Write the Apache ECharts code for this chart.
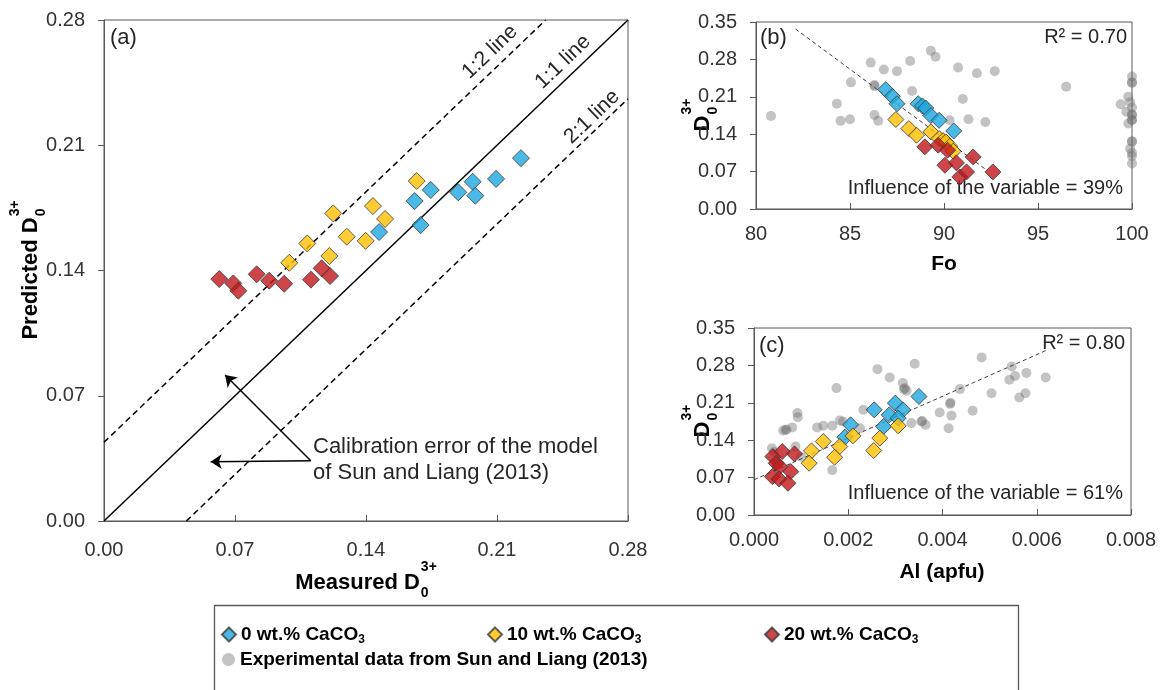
<!DOCTYPE html>
<html>
<head>
<meta charset="utf-8">
<script src="https://cdn.jsdelivr.net/npm/echarts@6/dist/echarts.min.js"></script>
<style>
  html, body { margin: 0; padding: 0; background: #fff; }
  #chart { width: 1163px; height: 690px; }
</style>
</head>
<body>
<div id="chart"></div>
<script>
// ---- Series names ----
const S0 = '0 wt.% CaCO3';
const S10 = '10 wt.% CaCO3';
const S20 = '20 wt.% CaCO3';
const SEXP = 'Experimental data from Sun and Liang (2013)';

// ---- Panel (a): measured vs predicted D0(3+) ----
const aBlue = [[0.147,0.1615],[0.166,0.1788],[0.1746,0.185],[0.1692,0.1654],[0.1893,0.1837],[0.197,0.1896],[0.1984,0.1818],[0.2095,0.1912],[0.2228,0.2028]];
const aYellow = [[0.099,0.1443],[0.1086,0.1551],[0.1225,0.1719],[0.1204,0.1481],[0.1297,0.1589],[0.1398,0.1566],[0.1437,0.176],[0.1502,0.1688],[0.1671,0.19]];
const aRed = [[0.0616,0.1352],[0.0691,0.1328],[0.0718,0.1287],[0.0816,0.1379],[0.0883,0.1343],[0.0963,0.1326],[0.1106,0.1349],[0.1163,0.1412],[0.1208,0.1369]];
// 1:1 line and the calibration-error envelope (offset in D units)
const oneToOne = [[0, 0], [0.28, 0.28]];
const calibrationError = 0.044;
// arrows pointing at the envelope lines
const arrowTail = [0.1105, 0.0337];
const arrowHeads = [[0.0647, 0.0816], [0.057, 0.0331]];

// ---- Panel (b): D0(3+) vs Fo ----
const bBlue = [[86.9,0.2235],[87.25,0.211],[87.5,0.197],[88.63,0.197],[88.85,0.193],[89.03,0.189],[89.3,0.175],[89.74,0.166],[90.52,0.146]];
const bYellow = [[87.44,0.1675],[88.13,0.1506],[88.54,0.1381],[89.3,0.1444],[89.74,0.1319],[89.95,0.128],[90.1,0.1256],[90.31,0.1175],[90.49,0.1081]];
const bRed = [[88.98,0.1163],[89.69,0.1194],[90.19,0.11],[90.05,0.0819],[90.66,0.0863],[90.84,0.06],[91.2,0.0694],[91.55,0.0975],[92.6,0.0694]];
const bGray = [[80.8,0.174],[84.3,0.197],[84.5,0.165],[85.0,0.168],[85.05,0.237],[86.1,0.274],[86.3,0.230],[86.3,0.232],[86.3,0.176],[86.5,0.165],[86.8,0.261],[87.5,0.258],[88.2,0.277],[88.3,0.221],[89.3,0.296],[89.55,0.285],[90.3,0.166],[90.75,0.265],[91.0,0.206],[91.3,0.168],[91.75,0.254],[92.2,0.163],[92.7,0.258],[96.5,0.229],
  [99.4,0.196],[99.8,0.210],[100,0.248],[100,0.236],[100,0.237],[99.9,0.200],[100,0.190],[99.7,0.182],[100,0.176],[100,0.177],[100,0.166],[100,0.167],[99.8,0.160],[100,0.126],[100,0.127],[99.9,0.113],[100,0.105],[100,0.099],[100,0.085]];
const bTrend = [[82.1, 0.337], [92.3, 0.072]];

// ---- Panel (c): D0(3+) vs Al (apfu) ----
const cBlue = [[0.00255,0.1969],[0.0030,0.2094],[0.00316,0.1969],[0.00287,0.1875],[0.00306,0.1813],[0.00275,0.1656],[0.0035,0.2219],[0.00205,0.1688],[0.00193,0.1456]];
const cYellow = [[0.00306,0.1669],[0.00267,0.1438],[0.00254,0.1206],[0.0021,0.1481],[0.00182,0.1281],[0.00171,0.1081],[0.00147,0.1375],[0.00122,0.12],[0.00117,0.0969]];
const cRed = [[0.0004,0.1094],[0.0006,0.1188],[0.00086,0.1144],[0.00047,0.0969],[0.00055,0.0906],[0.00078,0.0813],[0.00039,0.0719],[0.00053,0.0675],[0.00072,0.0594]];
const cGray = [[0.00038,0.125],[0.00042,0.118],[0.00062,0.158],[0.00067,0.159],[0.00069,0.160],[0.00081,0.164],[0.00092,0.191],[0.00093,0.183],[0.00088,0.128],[0.0010,0.109],[0.00134,0.164],[0.00147,0.167],[0.00166,0.167],[0.00166,0.084],[0.00175,0.2375],[0.00182,0.177],[0.00189,0.175],[0.00225,0.1625],[0.00232,0.197],[0.00262,0.273],[0.00288,0.2575],[0.00316,0.247],[0.00318,0.2356],[0.00320,0.237],[0.00324,0.2325],[0.00341,0.283],[0.00334,0.172],[0.00355,0.175],[0.00357,0.176],[0.00364,0.169],[0.00394,0.192],[0.00416,0.208],[0.00417,0.210],[0.00419,0.186],[0.00413,0.1625],[0.00437,0.2356],[0.00464,0.195],[0.00483,0.295],[0.00504,0.228],[0.00547,0.278],[0.00542,0.253],[0.00554,0.26],[0.00578,0.266],[0.00563,0.22],[0.00576,0.228],[0.00619,0.2575]];
const cTrend = [[0, 0.066], [0.0062, 0.308]];

// ---- Styling ----
const FONT = '"Liberation Sans", Arial, sans-serif';
const COLORS = { blue: '#1EA8E0', yellow: '#FFC000', red: '#C0161B', gray: '#707070' };
const AXIS_COLOR = '#595959';
const TEXT_COLOR = '#262626';

const measureCtx = document.createElement('canvas').getContext('2d');
function textWidth(text, font) { measureCtx.font = font; return measureCtx.measureText(text).width; }

function valueAxis(gridIndex, min, max, interval, digits, isX, margin) {
  return {
    type: 'value', gridIndex, min, max, interval,
    axisLine: { show: true, onZero: false, lineStyle: { color: AXIS_COLOR, width: 1 } },
    axisTick: { show: true, inside: isX, length: 6, lineStyle: { color: AXIS_COLOR, width: 1 } },
    axisLabel: { margin, color: '#333', fontSize: 20, fontFamily: FONT, formatter: v => v.toFixed(digits) },
    splitLine: { show: false }
  };
}

function scatter(name, data, axisIndex, color, size, symbol) {
  const isGray = symbol === 'circle';
  return {
    type: 'scatter', name, data, xAxisIndex: axisIndex, yAxisIndex: axisIndex,
    symbol, symbolSize: size, z: isGray ? 2 : 4,
    itemStyle: isGray ? { color, opacity: 0.42 } : { color, borderColor: '#3a3a3a', borderWidth: 1 },
    emphasis: { disabled: true }
  };
}

function refLine(data, axisIndex, dashed, width, color, extra) {
  return Object.assign({
    type: 'line', data, xAxisIndex: axisIndex, yAxisIndex: axisIndex,
    showSymbol: false, symbol: 'none', silent: true, z: 3,
    lineStyle: { color, width, type: dashed ? dashed : 'solid' }
  }, extra || {});
}

// Axis title with a stacked subscript "0" and superscript "3+"
function dTitle(main, cx, cy, rotation) {
  const fMain = 'bold 22px ' + FONT;
  const fSmall = 'bold 14px ' + FONT;
  const w1 = textWidth(main, fMain);
  const w2 = textWidth('3+', fSmall);
  const x0 = -(w1 + 1 + w2) / 2;
  const base = { fill: '#000', textVerticalAlign: 'middle', textAlign: 'left' };
  return {
    type: 'group', x: cx, y: cy, rotation, silent: true,
    children: [
      { type: 'text', x: x0, y: 0, style: Object.assign({ text: main, font: fMain }, base) },
      { type: 'text', x: x0 + w1 + 1, y: 10, style: Object.assign({ text: '0', font: fSmall }, base) },
      { type: 'text', x: x0 + w1 + 1, y: -16, style: Object.assign({ text: '3+', font: fSmall }, base) }
    ]
  };
}

function label(text, x, y, opts) {
  return {
    type: 'text', x, y, silent: true, rotation: (opts && opts.rotation) || 0,
    style: {
      text, fill: TEXT_COLOR,
      font: ((opts && opts.font) || '20px') + ' ' + FONT,
      textAlign: (opts && opts.align) || 'left',
      textVerticalAlign: (opts && opts.vAlign) || 'middle',
      lineHeight: (opts && opts.lineHeight) || undefined
    }
  };
}

const legendText = {
  fontFamily: FONT, fontWeight: 'bold', fontSize: 19, color: '#000',
  rich: {
    t: { fontFamily: FONT, fontWeight: 'bold', fontSize: 19, color: '#000' },
    s: { fontFamily: FONT, fontWeight: 'bold', fontSize: 12, color: '#000', padding: [10, 0, 0, 0] }
  }
};
function legendItem(name, left, top, icon) {
  return {
    data: [name], left, top, icon, padding: 0,
    itemWidth: icon === 'circle' ? 13 : 14, itemHeight: icon === 'circle' ? 13 : 14,
    selectedMode: false, textStyle: legendText,
    formatter: n => /3$/.test(n) ? '{t|' + n.slice(0, -1) + '}{s|3}' : '{t|' + n + '}'
  };
}

const lineAngle = Math.atan2(501 / 0.28, 524 / 0.28);

const option = {
  animation: false,
  backgroundColor: '#fff',
  textStyle: { fontFamily: FONT },
  grid: [
    { left: 104, top: 20, width: 524, height: 501, show: true, borderColor: AXIS_COLOR, borderWidth: 1 },
    { left: 756, top: 22, width: 376, height: 187, show: true, borderColor: AXIS_COLOR, borderWidth: 1 },
    { left: 754, top: 328, width: 377, height: 187, show: true, borderColor: AXIS_COLOR, borderWidth: 1 }
  ],
  xAxis: [
    valueAxis(0, 0, 0.28, 0.07, 2, true, 19),
    valueAxis(1, 80, 100, 5, 0, true, 15),
    valueAxis(2, 0, 0.008, 0.002, 3, true, 15)
  ],
  yAxis: [
    valueAxis(0, 0, 0.28, 0.07, 2, false, 19),
    valueAxis(1, 0, 0.35, 0.07, 2, false, 19),
    valueAxis(2, 0, 0.35, 0.07, 2, false, 19)
  ],
  legend: [
    legendItem(S0, 221, 625, 'diamond'),
    legendItem(S10, 487, 625, 'diamond'),
    legendItem(S20, 764, 625, 'diamond'),
    legendItem(SEXP, 222, 650, 'circle')
  ],
  series: [
    // panel (a) reference lines
    refLine(oneToOne, 0, null, 1.5, '#000', {
      markLine: {
        silent: true, symbol: ['none', 'arrow'], symbolSize: 11,
        lineStyle: { color: '#000', width: 1.5, type: 'solid' },
        label: { show: false },
        data: arrowHeads.map(h => [{ coord: arrowTail }, { coord: h }])
      }
    }),
    refLine([[0, calibrationError], [0.28 - calibrationError, 0.28]], 0, [6, 4], 1.5, '#000'),
    refLine([[calibrationError, 0], [0.28, 0.28 - calibrationError]], 0, [6, 4], 1.5, '#000'),
    scatter(S0, aBlue, 0, COLORS.blue, 17, 'diamond'),
    scatter(S10, aYellow, 0, COLORS.yellow, 17, 'diamond'),
    scatter(S20, aRed, 0, COLORS.red, 17, 'diamond'),
    // panel (b)
    scatter(SEXP, bGray, 1, COLORS.gray, 10, 'circle'),
    refLine(bTrend, 1, [4, 3], 1, '#404040'),
    scatter(S0, bBlue, 1, COLORS.blue, 16, 'diamond'),
    scatter(S10, bYellow, 1, COLORS.yellow, 16, 'diamond'),
    scatter(S20, bRed, 1, COLORS.red, 16, 'diamond'),
    // panel (c)
    scatter(SEXP, cGray, 2, COLORS.gray, 10, 'circle'),
    refLine(cTrend, 2, [4, 3], 1, '#404040'),
    scatter(S0, cBlue, 2, COLORS.blue, 16, 'diamond'),
    scatter(S10, cYellow, 2, COLORS.yellow, 16, 'diamond'),
    scatter(S20, cRed, 2, COLORS.red, 16, 'diamond')
  ],
  graphic: [
    label('(a)', 110, 38, { font: '22px' }),
    label('(b)', 760, 38, { font: '22px' }),
    label('(c)', 759, 346, { font: '22px' }),
    label('R² = 0.70', 1127, 37, { align: 'right' }),
    label('R² = 0.80', 1125, 343, { align: 'right' }),
    label('Influence of the variable = 39%', 1123, 188, { align: 'right' }),
    label('Influence of the variable = 61%', 1123, 493, { align: 'right' }),
    label('Calibration error of the model\nof Sun and Liang (2013)', 313, 434, { font: '22px', vAlign: 'top', lineHeight: 26 }),
    label('1:2 line', 490, 52, { font: '21px', align: 'center', rotation: lineAngle }),
    label('1:1 line', 563, 62, { font: '21px', align: 'center', rotation: lineAngle }),
    label('2:1 line', 592, 117, { font: '21px', align: 'center', rotation: lineAngle }),
    dTitle('Measured D', 366, 583, 0),
    dTitle('Predicted D', 31, 270, Math.PI / 2),
    dTitle('D', 703, 115, Math.PI / 2),
    dTitle('D', 703, 421, Math.PI / 2),
    { type: 'text', x: 944, y: 264, silent: true, style: { text: 'Fo', font: 'bold 21px ' + FONT, fill: '#000', textAlign: 'center', textVerticalAlign: 'middle' } },
    { type: 'text', x: 942, y: 572, silent: true, style: { text: 'Al (apfu)', font: 'bold 21px ' + FONT, fill: '#000', textAlign: 'center', textVerticalAlign: 'middle' } },
    { type: 'rect', silent: true, shape: { x: 214.5, y: 605.5, width: 804, height: 100 }, style: { fill: 'none', stroke: AXIS_COLOR, lineWidth: 1.3 } }
  ]
};

const chart = echarts.init(document.getElementById('chart'), null, { renderer: 'canvas' });
chart.setOption(option);
</script>
</body>
</html>
